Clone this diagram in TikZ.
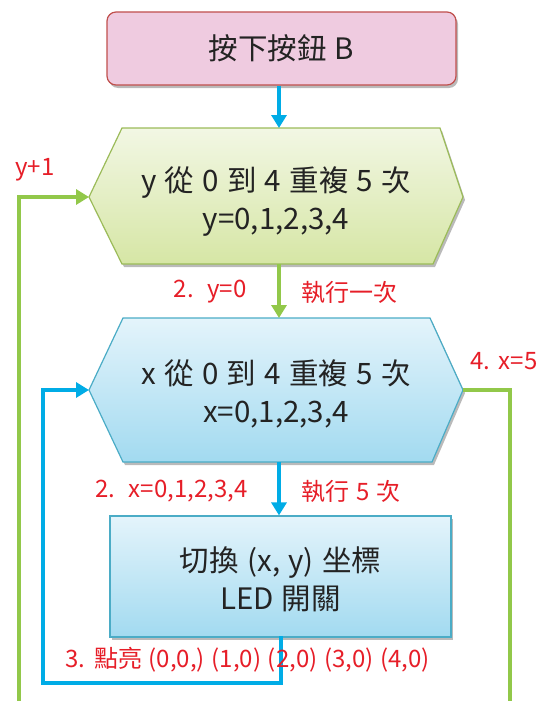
\documentclass[tikz,border=0pt]{standalone}
\usepackage{fontspec}
\setmainfont{Noto Sans CJK TC}[WordSpace=1.25]
\usetikzlibrary{arrows.meta,shadows}
\definecolor{lnred}{RGB}{230,30,40}
\definecolor{lngreen}{RGB}{146,200,74}
\definecolor{lnblue}{RGB}{0,172,230}
\definecolor{pinkfill}{RGB}{239,203,224}
\definecolor{pinkdraw}{RGB}{192,80,77}
\definecolor{gtop}{RGB}{242,247,228}
\definecolor{gbot}{RGB}{214,230,165}
\definecolor{gdraw}{RGB}{155,187,89}
\definecolor{btop}{RGB}{228,244,251}
\definecolor{bbot}{RGB}{162,218,240}
\definecolor{bdraw}{RGB}{75,172,198}
\definecolor{txt}{RGB}{35,35,35}
\tikzset{
  shad/.style={drop shadow={shadow xshift=2pt,shadow yshift=-3pt,opacity=0.45,fill=black!60}},
  maintext/.style={font=\fontsize{29.5}{38}\selectfont,text=txt,align=center},
  lbl/.style={font=\fontsize{24}{26}\selectfont,text=lnred},
  gline/.style={draw=lngreen,line width=4.5pt},
  bline/.style={draw=lnblue,line width=4.5pt},
  tip/.style={-{Triangle[length=13pt,width=15pt]}},
}
\begin{document}
\begin{tikzpicture}[x=1pt,y=-1pt]
\useasboundingbox (0,0) rectangle (542,701);
% top box
\node[shad,draw=pinkdraw,fill=pinkfill,line width=1.2pt,rounded corners=9pt,
  minimum width=349pt,minimum height=73pt,maintext] (start) at (281.5,48.5) {按下按鈕 B};
% hexagon 1
\coordinate (h1L) at (89,197);
\coordinate (h1R) at (463,197);
\coordinate (h1T) at (279,128);
\coordinate (h1B) at (279,264);
\path[shad,draw=gdraw,line width=1.2pt,top color=gtop,bottom color=gbot]
  (h1L) -- (122,128) -- (440,128) -- (h1R) -- (433,264) -- (122,264) -- cycle;
\node[maintext] (loopy) at (276,202) {y 從 0 到 4 重複 5 次\\y=0,1,2,3,4};
% hexagon 2
\coordinate (h2L) at (89,390);
\coordinate (h2R) at (463,390);
\coordinate (h2T) at (279,318);
\coordinate (h2B) at (279,462);
\path[shad,draw=bdraw,line width=1.2pt,top color=btop,bottom color=bbot]
  (h2L) -- (123,318) -- (430,318) -- (h2R) -- (432,462) -- (123,462) -- cycle;
\node[maintext] (loopx) at (276,394) {x 從 0 到 4 重複 5 次\\x=0,1,2,3,4};
% inner box
\node[shad,draw=bdraw,top color=btop,bottom color=bbot,line width=1.2pt,
  minimum width=341pt,minimum height=121pt,maintext] (led) at (280.5,576.5) {};
\node[maintext] (ledtext) at (280.5,579) {切換 (x, y) 坐標\\LED 開關};
% connectors
\coordinate (c1) at (19,701);
\coordinate (c2) at (19,197);
\coordinate (c3) at (43,683);
\coordinate (c4) at (43,390);
\coordinate (c5) at (281,683);
\coordinate (c6) at (510,390);
\coordinate (c7) at (510,701);
\coordinate (ledB) at (281,636);
\draw[bline,tip] (start.south -| h1T) -- (h1T);
\draw[gline,tip] (h1B) -- (h2T);
\draw[bline,tip] (h2B) -- (led.north -| h2B);
\draw[gline,tip,line join=miter] (c1) -- (c2) -- (h1L);
\draw[bline,tip,line join=miter] (ledB) -- (c5) -- (c3) -- (c4) -- (h2L);
\draw[gline,line join=miter] (h2R) -- (c6) -- (c7);
% labels
\node[lbl] (ly1) at (35,170) {y+1};
\node[lbl,anchor=east] (ly0) at (250,292) {2.\ \ y=0};
\node[lbl,anchor=west] (lyonce) at (298,292) {執行一次};
\node[lbl,anchor=east] (lx5) at (541,361) {4. x=5};
\node[lbl,anchor=east] (lx04) at (251,491) {2.\ \ x=0,1,2,3,4};
\node[lbl,anchor=west] (lx5t) at (298,491) {執行 5 次};
\node[lbl,anchor=west] (lpts) at (62,660) {3. 點亮 (0,0,) (1,0) (2,0) (3,0) (4,0)};
\end{tikzpicture}
\end{document}
